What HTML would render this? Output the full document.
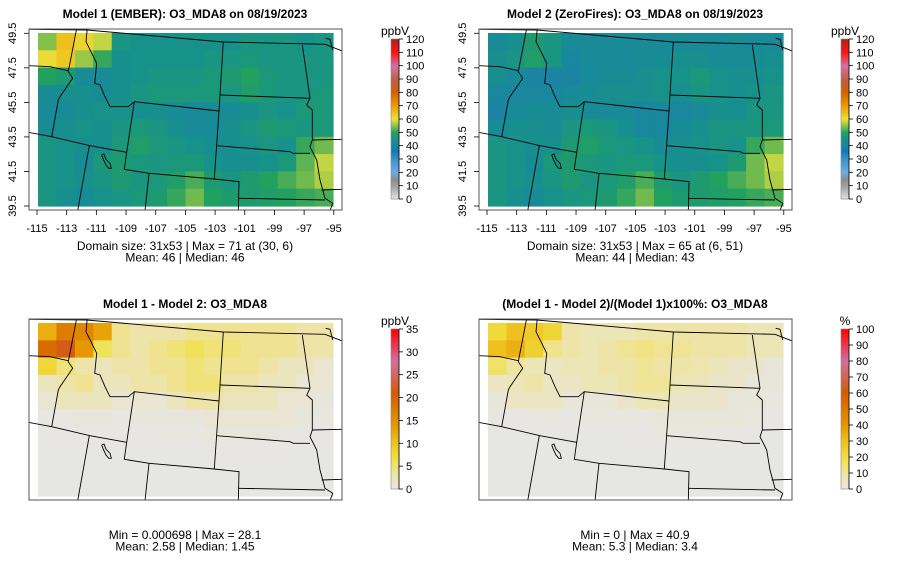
<!DOCTYPE html>
<html><head><meta charset="utf-8">
<style>
html,body{margin:0;padding:0;background:#fff;}
svg{display:block;font-family:"Liberation Sans",sans-serif;}
</style></head>
<body>
<svg id="fig" width="900" height="579" viewBox="0 0 900 579" xmlns="http://www.w3.org/2000/svg"></svg>
<script>
// ---- data (coarse 10 rows x 16 cols, north to south, west to east) ----
const lonTicks = [-115,-113,-111,-109,-107,-105,-103,-101,-99,-97,-95];
const latTicks = [39.5,41.5,43.5,45.5,47.5,49.5];
const ozoneTicks = [0,10,20,30,40,50,60,70,80,90,100,110,120];
const diffTicks = [0,5,10,15,20,25,30,35];
const pctTicks = [0,10,20,30,40,50,60,70,80,90,100];
const model1 = [
[55,65,62,58,46,45,45,45,45,45,45,46,46,46,45,46],
[61,64,56,51,44,45,45,45,45,46,46,47,46,46,46,46],
[50,48,42,42,44,45,46,46,46,47,48,50,47,46,46,46],
[43,44,44,43,44,46,47,47,47,47,46,49,47,46,46,47],
[42,43,44,45,45,44,44,43,42,43,43,44,46,45,47,47],
[43,44,45,44,46,47,46,44,42,42,44,46,48,47,46,47],
[46,45,44,44,47,49,47,46,45,44,44,45,46,45,51,54],
[46,45,43,47,48,47,46,47,47,45,44,44,45,47,53,58],
[46,45,44,46,48,46,47,49,52,48,46,48,50,52,54,57],
[46,44,43,45,46,47,48,51,54,50,48,48,49,50,51,52]];
const model2 = [
[42,44,48,46,42,42,42,42,42,42,42,42,42,43,42,42],
[44,46,49,46,41,42,42,42,43,43,44,44,43,43,43,44],
[44,42,40,40,40,42,43,43,44,45,45,47,45,44,44,45],
[41,41,41,41,42,43,44,44,44,45,44,46,45,44,45,46],
[40,42,43,43,44,43,42,42,41,41,41,42,44,44,46,46],
[42,44,44,43,46,47,46,44,41,41,43,44,46,46,46,47],
[46,45,44,44,48,49,47,46,45,43,44,45,46,45,51,54],
[46,45,43,47,48,47,46,47,47,45,44,44,45,48,54,58],
[46,45,44,46,48,46,47,49,52,48,46,48,50,52,54,57],
[46,44,43,45,46,47,48,51,54,50,48,48,49,50,51,52]];
const diffVals = [
[12,17,16,13,4,3,3,3,4,4,4,4,4,4,3,3],
[19,22,14,6,4,3,4,5,6,5,5,4,4,4,3,3],
[8,5,3,2,3,3,4,4,5,4,4,4,3,2,2,1],
[2,3,4,2,2,3,3,4,5,5,3,3,2,2,1,1],
[1,2,2,2,1,1,1,2,3,3,2,2,2,1,1,0.5],
[0.3,0.3,0.5,0.5,0.3,0.5,0.5,0.5,0.5,1,1,1,1,1,0.5,0.3],
[0.2,0.2,0.2,0.2,0.2,0.2,0.2,0.3,0.3,0.5,0.5,0.5,0.4,0.3,0.2,0.2],
[0.1,0.1,0.1,0.1,0.1,0.1,0.1,0.1,0.1,0.2,0.2,0.2,0.2,0.2,0.1,0.1],
[0.1,0.1,0.1,0.1,0.1,0.1,0.1,0.1,0.1,0.1,0.1,0.1,0.1,0.1,0.1,0.1],
[0.1,0.1,0.1,0.1,0.1,0.1,0.1,0.1,0.1,0.1,0.1,0.1,0.1,0.1,0.1,0.1]];
const pctVals = [
[22,30,27,23,9,7,7,7,9,9,9,9,9,9,7,7],
[30,34,25,12,9,7,9,11,13,11,11,9,9,9,7,7],
[16,10,7,5,7,7,9,9,11,9,9,8,6,4,4,2],
[5,7,9,5,5,7,7,9,11,11,7,6,4,4,2,2],
[2,5,5,5,2,2,2,4,7,7,4,4,4,2,2,1],
[0.6,0.6,1,1,0.6,1,1,1,1,2,2,2,2,2,1,0.6],
[0.4,0.4,0.4,0.4,0.4,0.4,0.4,0.6,0.6,1,1,1,0.8,0.6,0.4,0.4],
[0.2,0.2,0.2,0.2,0.2,0.2,0.2,0.2,0.2,0.4,0.4,0.4,0.4,0.4,0.2,0.2],
[0.2,0.2,0.2,0.2,0.2,0.2,0.2,0.2,0.2,0.2,0.2,0.2,0.2,0.2,0.2,0.2],
[0.2,0.2,0.2,0.2,0.2,0.2,0.2,0.2,0.2,0.2,0.2,0.2,0.2,0.2,0.2,0.2]];

// ---- palettes (fraction of range -> colour) ----
const ozStops = [[0,'#e4e4e4'],[0.083,'#a0a0a0'],[0.125,'#8c8c8c'],[0.17,'#6aaee0'],[0.25,'#3a92d2'],[0.3,'#1478b4'],[0.333,'#1a84a2'],[0.375,'#17928a'],[0.417,'#22a060'],[0.46,'#88c24a'],[0.5,'#ece23c'],[0.58,'#eea000'],[0.667,'#d26200'],[0.75,'#c45c40'],[0.833,'#d272a6'],[0.917,'#ff1414'],[1,'#b02020']];
const dfStops = [[0,'#e6e6e6'],[0.1,'#efe4a0'],[0.2,'#f0e040'],[0.3,'#eec020'],[0.4,'#e69800'],[0.6,'#d45a00'],[0.8,'#d070a0'],[1,'#ff0000']];
function hex(c){return [parseInt(c.substr(1,2),16),parseInt(c.substr(3,2),16),parseInt(c.substr(5,2),16)];}
function colorAt(stops,f){
  f=Math.max(0,Math.min(1,f));
  for(let i=1;i<stops.length;i++){
    if(f<=stops[i][0]){
      const a=stops[i-1],b=stops[i],t=(f-a[0])/(b[0]-a[0]);
      const A=hex(a[1]),B=hex(b[1]);
      return 'rgb('+A.map((v,k)=>Math.round(v+(B[k]-v)*t)).join(',')+')';
    }
  }
  return stops[stops.length-1][1];
}

const NS='http://www.w3.org/2000/svg';
const svg=document.getElementById('fig');
function mk(tag,attrs,parent){const e=document.createElementNS(NS,tag);for(const k in attrs)e.setAttribute(k,attrs[k]);(parent||svg).appendChild(e);return e;}

// axis functions (panel-local)
const xOfLon = lon => 37 + (lon + 115) * 14.84;
const yOfLat = lat => 33.3 + (49.5 - lat) * 17.27;
const DX0=38, DX1=333, DY0=33, DY1=206;

// state borders in panel-local pixel coords (x3 scale, background geography)
const borders = [
 [[87,88],[260,90],[670,126],[975,133],[1027,153]],
 [[230,85],[205,215],[218,235],[180,290],[175,300],[155,410]],
 [[85,197],[150,200],[205,212]],
 [[85,397],[155,410],[270,437],[380,457]],
 [[262,85],[258,125],[290,190],[284,250],[300,255],[315,290],[330,320],[385,320],[403,305],[657,333]],
 [[403,305],[380,457],[373,508],[447,520],[643,537]],
 [[670,126],[657,333],[643,537]],
 [[660,285],[930,295]],
 [[977,115],[990,118],[998,150]],
 [[907,135],[915,190],[930,295],[920,315],[937,330],[937,420],[930,440],[950,480],[960,540],[975,595],[998,610],[990,632]],
 [[650,437],[870,455],[880,460],[930,460]],
 [[937,420],[1027,418]],
 [[715,595],[975,600]],
 [[643,537],[717,545],[715,632]],
 [[435,632],[447,520]],
 [[233,632],[268,437]],
 [[965,570],[1027,568]],
 [[305,465],[312,462],[318,478],[330,490],[334,505],[326,505],[318,495],[310,478],[305,465]]
];

let clipId=0;
function panel(ox,oy,opts){
  const g=mk('g',{transform:'translate('+ox+','+oy+')'});
  
  
  const t=mk('text',{x:185,y:18,'text-anchor':'middle','font-size':12,'font-weight':'bold',fill:'#000'},g);
  t.textContent=opts.title;
  
  
  const hm=mk('g',{},g);
  
  
  const data=opts.data, nr=data.length, nc=data[0].length;
  const cw=(DX1-DX0)/nc, ch=(DY1-DY0)/nr;
  for(let r=0;r<nr;r++)for(let c=0;c<nc;c++){
    const rect=mk('rect',{x:(DX0+c*cw).toFixed(2),y:(DY0+r*ch).toFixed(2),width:(cw+0.6).toFixed(2),height:(ch+0.6).toFixed(2),fill:colorAt(opts.stops,data[r][c]/opts.max)},hm);
    
    
  }
  const id='clip'+(clipId++);
  const cp=mk('clipPath',{id:id},g);
  mk('rect',{x:29,y:29,width:313,height:181},cp);
  const bg=mk('g',{'clip-path':'url(#'+id+')',fill:'none',stroke:'#000','stroke-width':0.9},g);
  
  
  borders.forEach(b=>{
    const p=mk('polyline',{points:b.map(q=>(q[0]/3).toFixed(1)+','+(q[1]/3).toFixed(1)).join(' ')},bg);
    
    
  });
  const box=mk('rect',{x:29,y:29,width:313,height:181,fill:'none',stroke:'#555','stroke-width':1},g);
  
  
  if(opts.axes){
    const xa=mk('g',{'font-size':11,fill:'#000'},g);
    
    
    lonTicks.forEach(v=>{
      const x=xOfLon(v);
      mk('line',{x1:x,x2:x,y1:210,y2:215,stroke:'#000','stroke-width':0.8},xa);
      const tx=mk('text',{x:x,y:232,'text-anchor':'middle'},xa);tx.textContent=v;
    });
    const ya=mk('g',{'font-size':11,fill:'#000'},g);
    
    
    latTicks.forEach(v=>{
      const y=yOfLat(v);
      mk('line',{x1:24,x2:29,y1:y,y2:y,stroke:'#000','stroke-width':0.8},ya);
      const tx=mk('text',{x:16,y:y,'text-anchor':'middle',transform:'rotate(-90 16 '+y+')'},ya);tx.textContent=v;
    });
  }
  opts.stats.forEach((s,i)=>{
    const st=mk('text',{x:185,y:opts.statsY+i*11.5,'text-anchor':'middle','font-size':12,fill:'#000'},g);
    st.textContent=s;
    
    
  });
  const cb=mk('g',{},g);
  
  
  const top=opts.cbTop, bot=opts.cbBot, n=80;
  for(let i=0;i<n;i++){
    const y=bot-(i+1)*(bot-top)/n;
    mk('rect',{x:391,y:y.toFixed(2),width:8,height:((bot-top)/n+0.5).toFixed(2),fill:colorAt(opts.stops,(i+0.5)/n)},cb);
  }
  mk('rect',{x:391,y:top,width:8,height:bot-top,fill:'none',stroke:'#888','stroke-width':0.6},cb);
  mk('line',{x1:399,x2:399,y1:top,y2:bot,stroke:'#000','stroke-width':0.8},cb);
  opts.ticks.forEach(v=>{
    const y=bot-(v/opts.max)*(bot-top);
    mk('line',{x1:399,x2:403,y1:y,y2:y,stroke:'#000','stroke-width':0.8},cb);
    const tx=mk('text',{x:406,y:y+4,'font-size':11,fill:'#000'},cb);tx.textContent=v;
  });
  const ul=mk('text',{x:opts.unitX,y:top-4,'text-anchor':'middle','font-size':12,fill:'#000'},cb);
  ul.textContent=opts.unit;
  
  
}

panel(0,0,{name:'panel-model1',title:'Model 1 (EMBER): O3_MDA8 on 08/19/2023',data:model1,stops:ozStops,max:120,axes:true,
  stats:['Domain size: 31x53 | Max = 71 at (30, 6)','Mean: 46 |  Median: 46'],statsY:250,cbTop:39,cbBot:199,ticks:ozoneTicks,unit:'ppbV',unitX:395});
panel(450,0,{name:'panel-model2',title:'Model 2 (ZeroFires): O3_MDA8 on 08/19/2023',data:model2,stops:ozStops,max:120,axes:true,
  stats:['Domain size: 31x53 | Max = 65 at (6, 51)','Mean: 44 |  Median: 43'],statsY:250,cbTop:39,cbBot:199,ticks:ozoneTicks,unit:'ppbV',unitX:395});
panel(0,290,{name:'panel-difference',title:'Model 1 - Model 2: O3_MDA8',data:diffVals,stops:dfStops,max:35,axes:false,
  stats:['Min = 0.000698 | Max = 28.1','Mean: 2.58 |  Median: 1.45'],statsY:249,cbTop:39,cbBot:199,ticks:diffTicks,unit:'ppbV',unitX:395});
panel(450,290,{name:'panel-percent-difference',title:'(Model 1 - Model 2)/(Model 1)x100%: O3_MDA8',data:pctVals,stops:dfStops,max:100,axes:false,
  stats:['Min = 0 | Max = 40.9','Mean: 5.3 |  Median: 3.4'],statsY:249,cbTop:39,cbBot:199,ticks:pctTicks,unit:'%',unitX:395});
</script>
</body></html>
